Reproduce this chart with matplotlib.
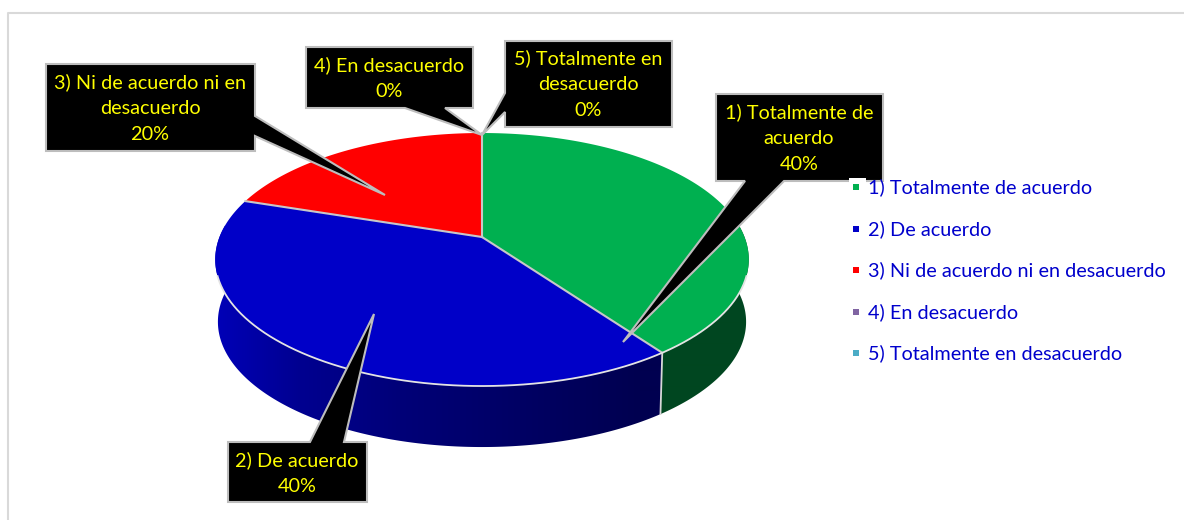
import numpy as np
import matplotlib
matplotlib.use("Agg")
import matplotlib.pyplot as plt

categories = ["1) Totalmente de acuerdo", "2) De acuerdo", "3) Ni de acuerdo ni en desacuerdo",
              "4) En desacuerdo", "5) Totalmente en desacuerdo"]
values = [40, 40, 20, 0, 0]
box_labels = ["1) Totalmente de\nacuerdo", "2) De acuerdo", "3) Ni de acuerdo ni en\ndesacuerdo",
              "4) En desacuerdo", "5) Totalmente en\ndesacuerdo"]
colors = ["#00b050", "#0000c8", "#ff0000", "#8064a2", "#4bacc6"]

plt.rcParams["font.family"] = ["Lato", "DejaVu Sans"]

# pie geometry in pixels, the top face is a circle seen in perspective
cx, cy = 482, 237
rx, ry, persp = 262.5, 122.5, 0.178
depth, shrink = 62.5, 0.99


def rim(theta, lower=False):
    # theta is clockwise from the top of the pie
    u, v = np.sin(theta), np.cos(theta)
    w = 1 + persp * v
    x, y = rx * u / w, -ry * v / w
    if lower:
        return cx + shrink * x, cy + shrink * y + depth
    return cx + x, cy + y


def side_shade(x):
    return np.interp(x, [214, 300, 400, 520, 640, 760], [0.92, 0.72, 0.6, 0.5, 0.4, 0.4])


fig = plt.figure(figsize=(11.84, 5.2), dpi=100)
ax = fig.add_axes([0, 0, 1, 1])

# chart frame, only top and left show in the picture
ax.plot([8, 8, 1184], [520, 12.5, 12.5], color="#d9d9d9", lw=1.5, zorder=1)

edges = 2 * np.pi * np.concatenate([[0], np.cumsum(values)]) / np.sum(values)

# side wall, a horizontal gradient clipped to the wall outline
grad_x = np.arange(200, 770)
for i in range(len(values)):
    if values[i] == 0:
        continue
    th = np.linspace(edges[i], edges[i + 1], 300)
    th = th[np.cos(th) < 0.1]
    if len(th) < 2:
        continue
    x1, y1 = rim(th)
    x2, y2 = rim(th[::-1], lower=True)
    outline = ax.fill(np.r_[x1, x2], np.r_[y1, y2], facecolor="none", edgecolor="none", zorder=2)[0]
    base = np.array(matplotlib.colors.to_rgb(colors[i]))
    grad = side_shade(grad_x)[None, :, None] * base[None, None, :]
    im = ax.imshow(grad, extent=(200, 770, 470, 130), aspect="auto", interpolation="bilinear", zorder=2)
    im.set_clip_path(outline)

ax.set_xlim(0, 1184)
ax.set_ylim(520, 0)
ax.axis("off")

# front line between the blue and green walls
xa, ya = rim(edges[1])
xb, yb = rim(edges[1], lower=True)
ax.plot([xa, xb], [ya, yb], color="#d8d8d8", lw=1.3, zorder=3)

# top face
for i in range(len(values)):
    th = np.linspace(edges[i], edges[i + 1], 200)
    x, y = rim(th)
    ax.fill(np.r_[cx, x], np.r_[cy, y], facecolor=colors[i], edgecolor="none", zorder=4)
for e in edges[:3]:
    xe, ye = rim(e)
    ax.plot([cx, xe], [cy, ye], color="#c8c8c8", lw=1.5, zorder=4)

# light line along the front of the rim
th = np.linspace(0, 2 * np.pi, 600)
th = th[np.cos(th) < -0.3]
xr, yr = rim(th)
ax.plot(xr, yr, color="#e4e4e4", lw=1.3, zorder=4)

# callouts: outline vertices with the pointer included, text centre
callouts = [
    ([(716, 94), (883, 94), (883, 181), (784, 181), (623, 342), (745, 181), (716, 181)], (799, 138)),
    ([(228, 442), (310, 442), (374, 314), (344, 442), (367, 442), (367, 502), (228, 502)], (297, 473)),
    ([(46, 64), (255, 64), (255, 116), (385, 195), (255, 136), (255, 151), (46, 151)], (150, 108)),
    ([(306, 47), (473, 47), (473, 108), (445, 108), (482, 135), (405, 108), (306, 108)], (389, 78)),
    ([(505, 41), (672, 41), (672, 127), (505, 127), (505, 112), (482, 135), (505, 93)], (588, 84)),
]
for i, (outline, centre) in enumerate(callouts):
    px, py = zip(*outline)
    ax.fill(px, py, facecolor="black", edgecolor="#bdbdbd", lw=1.5, joinstyle="miter", zorder=5)
    ax.text(centre[0], centre[1], f"{box_labels[i]}\n{values[i]}%", color="#ffff00", fontsize=14.3,
            ha="center", va="center", linespacing=1.64, zorder=6)

# legend
ax.fill([849, 866, 866, 849], [178, 178, 195, 195], color="white", lw=0, zorder=7)
legend_y = [187, 229, 270, 312, 353]
for i, name in enumerate(categories):
    ax.scatter([856], [legend_y[i]], marker="s", s=18, color=colors[i], linewidths=0, zorder=8)
    ax.text(868, legend_y[i], name, color="#0000cc", fontsize=14.3, ha="left", va="center", zorder=8)

fig.savefig("out.png", dpi=100, facecolor="white")
